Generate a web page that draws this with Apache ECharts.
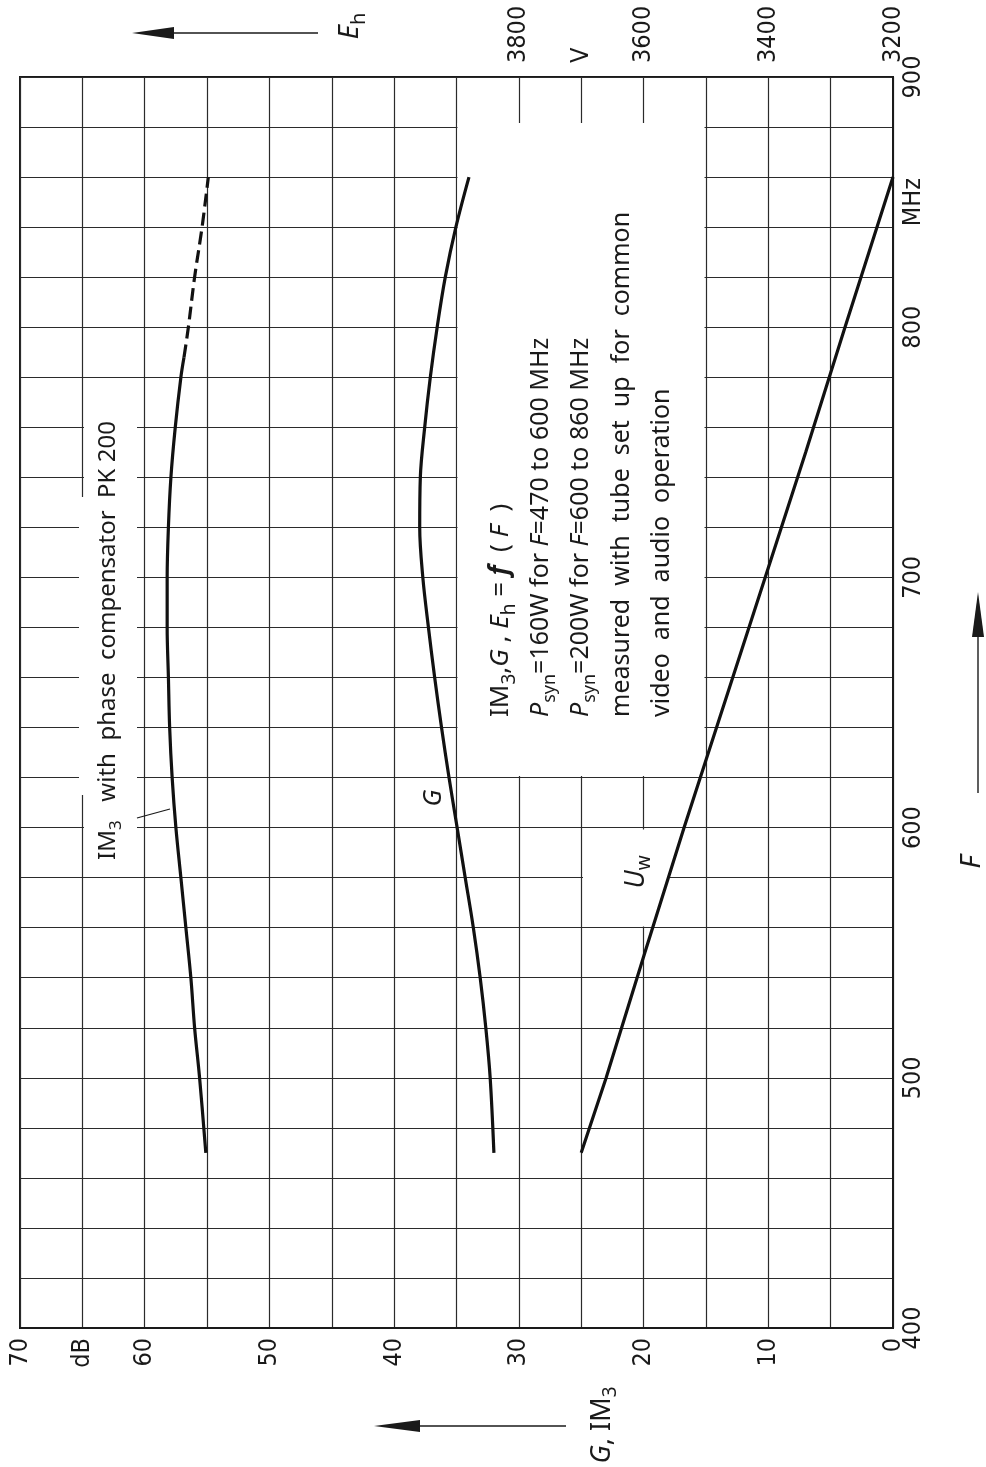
<!DOCTYPE html>
<html><head><meta charset="utf-8">
<script src="https://cdn.jsdelivr.net/npm/echarts@6/dist/echarts.min.js"></script>
<style>html,body{margin:0;padding:0;background:#fff}#c{width:986px;height:1467px}</style>
</head><body><div id="c"></div>
<script>
// ---- tick labels ----
const dbTicks = [0, 10, 20, 30, 40, 50, 60, 70];
const ehTicks = [3200, 3400, 3600, 3800];
const fTicks = [400, 500, 600, 700, 800, 900];

// ---- IM3 (dB) vs F (MHz) ----
const freqIM3 = [470, 500, 520, 540, 560, 580, 600, 620, 640, 660, 680, 700, 720, 740, 760, 780, 788];
const im3Solid = [55.1, 55.6, 56.0, 56.3, 56.7, 57.1, 57.5, 57.8, 58.0, 58.1, 58.2, 58.2, 58.1, 57.9, 57.55, 57.1, 56.85];
const freqIM3Dash = [788, 800, 820, 840, 860];
const im3Dash = [56.85, 56.5, 56.0, 55.4, 54.9];

// ---- G (dB) vs F ----
const freqG = [470, 500, 520, 540, 560, 580, 600, 620, 640, 660, 680, 700, 720, 740, 760, 780, 800, 820, 840, 860];
const gVals = [32.0, 32.3, 32.65, 33.1, 33.65, 34.3, 34.95, 35.6, 36.2, 36.75, 37.25, 37.7, 37.95, 37.9, 37.55, 37.1, 36.55, 35.9, 35.05, 34.0];

// ---- Uw (V, read on the Eh scale) vs F ----
const freqU = [470, 500, 550, 600, 650, 700, 750, 800, 860];
const uwVals = [3700, 3660, 3598, 3535, 3470, 3405, 3340, 3277, 3200];

const NUM_FONT = '"Liberation Sans Narrow","DejaVu Sans Condensed","Liberation Sans",sans-serif';
const TXT_FONT = '"Noto Sans","Open Sans","DejaVu Sans",sans-serif';
const INK = '#1a1a1a';
const GRIDC = '#2b2b2b';

const chart = echarts.init(document.getElementById('c'));

const numLabel = (rot, margin) => ({
  rotate: rot, margin: margin, fontSize: 25, fontFamily: NUM_FONT, color: INK
});

const option = {
  animation: false,
  backgroundColor: '#fff',
  grid: { left: 20, right: 93, top: 77, bottom: 139, show: true, borderColor: INK, borderWidth: 2, backgroundColor: 'transparent' },
  xAxis: [
    {
      type: 'value', position: 'bottom', inverse: true, min: 0, max: 70, interval: 5,
      axisLine: { show: true, lineStyle: { color: INK, width: 2 } },
      axisTick: { show: false },
      splitLine: { show: true, lineStyle: { color: GRIDC, width: 1.2 } },
      axisLabel: Object.assign(numLabel(90, 10), {
        formatter: v => { const r = Math.round(v); return dbTicks.includes(r) ? String(r) : (r === 65 ? 'dB' : ''); }
      })
    },
    {
      type: 'value', position: 'top', inverse: true, min: 3200, max: 4600, interval: 100,
      axisLine: { show: false }, axisTick: { show: false }, splitLine: { show: false },
      axisLabel: Object.assign(numLabel(-90, 14), {
        formatter: v => { const r = Math.round(v); return ehTicks.includes(r) ? String(r) : (r === 3700 ? 'V' : ''); }
      })
    }
  ],
  yAxis: [
    {
      type: 'value', position: 'right', min: 400, max: 900, interval: 20,
      axisLine: { show: true, lineStyle: { color: INK, width: 2 } },
      axisTick: { show: false },
      splitLine: { show: true, lineStyle: { color: GRIDC, width: 1.2 } },
      axisLabel: { show: false }
    },
    {
      type: 'value', position: 'right', min: 400, max: 900, interval: 50,
      axisLine: { show: false }, axisTick: { show: false }, splitLine: { show: false },
      axisLabel: Object.assign(numLabel(90, 8), {
        formatter: v => { const r = Math.round(v); return fTicks.includes(r) ? String(r) : (r === 850 ? 'MHz' : ''); }
      })
    }
  ],
  series: [
    { type: 'line', name: 'IM3', xAxisIndex: 0, yAxisIndex: 0, symbol: 'none', smooth: 0.35, z: 3,
      data: freqIM3.map((f, i) => [im3Solid[i], f]), lineStyle: { color: '#111', width: 3.2 } },
    { type: 'line', name: 'IM3 dashed', xAxisIndex: 0, yAxisIndex: 0, symbol: 'none', smooth: 0.35, z: 3,
      data: freqIM3Dash.map((f, i) => [im3Dash[i], f]), lineStyle: { color: '#111', width: 3.2, type: [13, 6] } },
    { type: 'line', name: 'G', xAxisIndex: 0, yAxisIndex: 0, symbol: 'none', smooth: 0.35, z: 3,
      data: freqG.map((f, i) => [gVals[i], f]), lineStyle: { color: '#111', width: 3.2 } },
    { type: 'line', name: 'Uw', xAxisIndex: 1, yAxisIndex: 0, symbol: 'none', smooth: false, z: 3,
      data: freqU.map((f, i) => [uwVals[i], f]), lineStyle: { color: '#111', width: 3.2 } }
  ]
};
chart.setOption(option);

// ---- annotations (rotated text, white label backgrounds, arrows) ----
const R = Math.PI / 2;
const baseRich = (fs) => ({
  n: { fontSize: fs, fontFamily: TXT_FONT, lineHeight: fs + 10, verticalAlign: 'middle', fill: INK },
  i: { fontSize: fs, fontFamily: TXT_FONT, fontStyle: 'italic', lineHeight: fs + 10, verticalAlign: 'middle', fill: INK },
  b: { fontSize: fs, fontFamily: TXT_FONT, fontStyle: 'italic', fontWeight: 'bold', lineHeight: fs + 10, verticalAlign: 'middle', fill: INK },
  s: { fontSize: Math.round(fs * 0.72), fontFamily: TXT_FONT, lineHeight: fs + 10, verticalAlign: 'bottom', fill: INK }
});
function rtext(x, y, text, fs, align) {
  return { type: 'text', x: x, y: y, rotation: R, z: 6,
    style: { text: text, rich: baseRich(fs), fontSize: fs, fontFamily: TXT_FONT, fill: INK,
      align: align || 'left', verticalAlign: 'middle' } };
}
function wrect(x, y, w, h) {
  return { type: 'rect', z: 1, shape: { x: x, y: y, width: w, height: h }, style: { fill: '#fff' } };
}

const elements = [
  // white areas behind labels
  wrect(457.5, 123, 247, 653),
  wrect(84, 400, 53, 470),
  wrect(79, 497, 7, 298),
  wrect(583, 829.5, 84, 97),
  // box text
  rtext(501, 717, '{n|IM}{s|3}{n|,}{i|G}{n| , }{i|E}{s|h}{n| = }{b|f}{n|  ( }{i|F}{n|  )}', 26),
  rtext(541, 717, '{i|P}{s|syn}{n|=160W for }{i|F}{n|=470 to 600 MHz}', 25),
  rtext(581, 717, '{i|P}{s|syn}{n|=200W for }{i|F}{n|=600 to 860 MHz}', 25),
  rtext(622, 717, '{n|measured  with  tube  set  up  for  common}', 25),
  rtext(662, 717, '{n|video  and  audio  operation}', 25),
  // IM3 label strip
  rtext(108, 860, '{n|IM}{s|3}{n|   with  phase  compensator  PK 200}', 24),
  { type: 'line', z: 6, shape: { x1: 137, y1: 818, x2: 170, y2: 809 }, style: { stroke: INK, lineWidth: 1.2 } },
  // curve labels
  rtext(434, 798, '{i|G}', 25, 'center'),
  rtext(636, 872, '{i|U}{s|w}', 27, 'center'),
  // top arrow + Eh
  { type: 'polygon', z: 6, shape: { points: [[132, 33], [174, 27], [174, 39]] }, style: { fill: INK } },
  { type: 'line', z: 6, shape: { x1: 172, y1: 33, x2: 318, y2: 33 }, style: { stroke: INK, lineWidth: 1.4 } },
  rtext(350, 26, '{i|E}{s|h}', 28, 'center'),
  // bottom arrow + G, IM3
  { type: 'polygon', z: 6, shape: { points: [[374, 1426], [420, 1420], [420, 1432]] }, style: { fill: INK } },
  { type: 'line', z: 6, shape: { x1: 418, y1: 1426, x2: 566, y2: 1426 }, style: { stroke: INK, lineWidth: 1.4 } },
  rtext(602, 1425, '{i|G}{n|, IM}{s|3}', 27, 'center'),
  // right arrow + F
  { type: 'polygon', z: 6, shape: { points: [[978, 592], [972, 637], [984, 637]] }, style: { fill: INK } },
  { type: 'line', z: 6, shape: { x1: 978, y1: 635, x2: 978, y2: 793 }, style: { stroke: INK, lineWidth: 1.4 } },
  rtext(972, 862, '{i|F}', 28, 'center')
];
chart.setOption({ graphic: { elements: elements } });
</script></body></html>
